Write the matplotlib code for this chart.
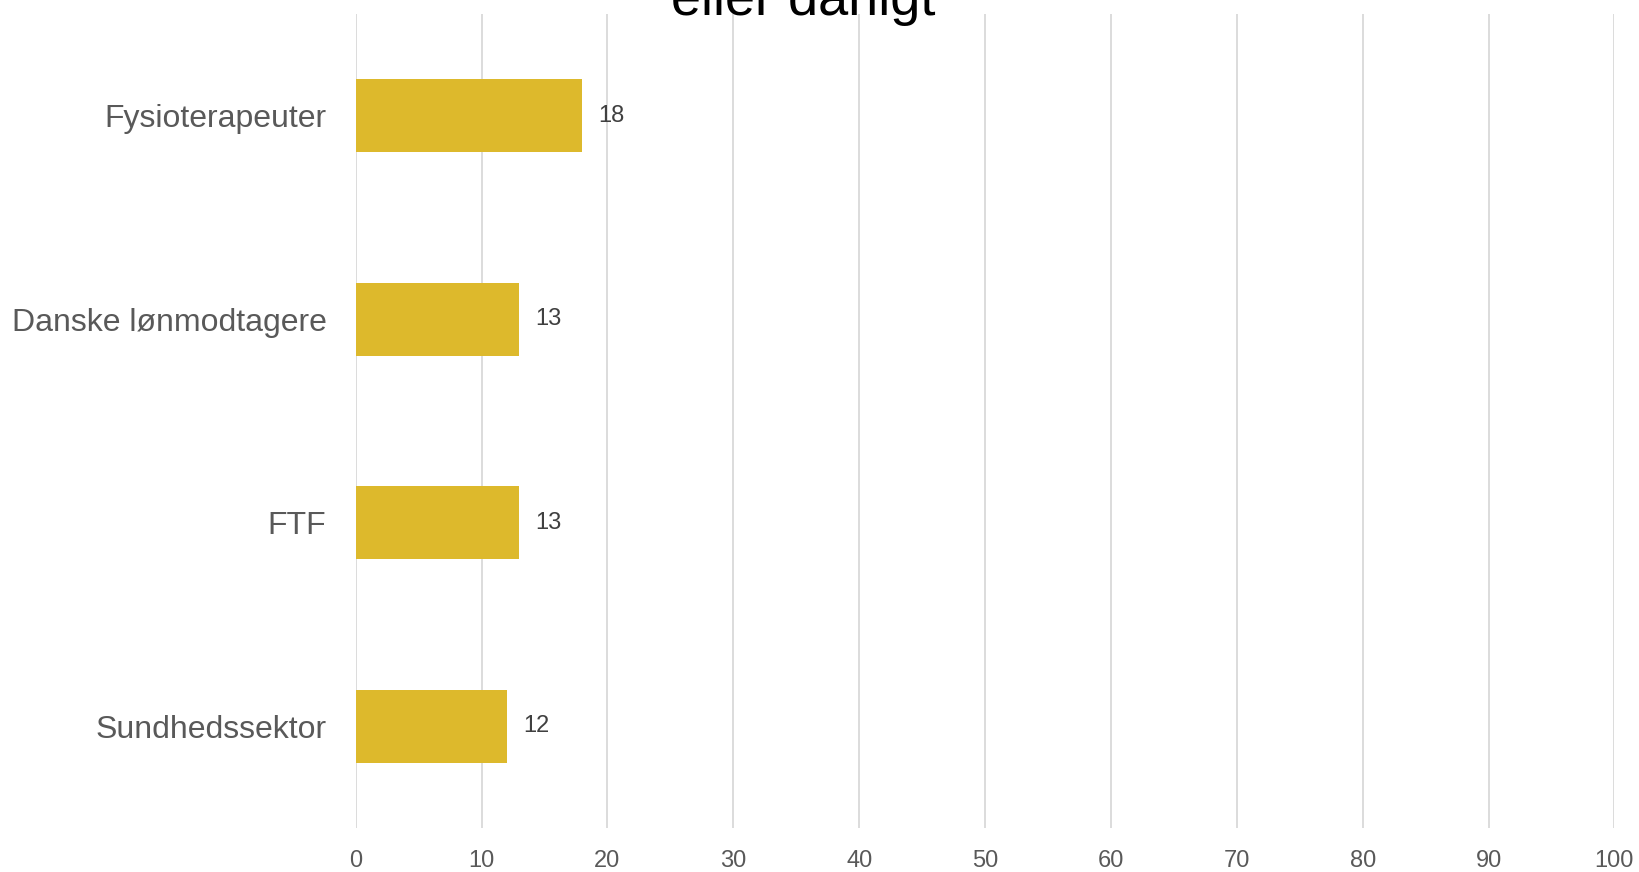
import matplotlib

matplotlib.use("Agg")
import matplotlib.pyplot as plt

# data
categories = ["Fysioterapeuter", "Danske lønmodtagere", "FTF", "Sundhedssektor"]
values = [18, 13, 13, 12]
xticks = list(range(0, 101, 10))

BAR_COLOR = "#DDB92C"
TEXT_GRAY = "#595959"
GRID_GRAY = "#D9D9D9"

plt.rcParams["font.family"] = ["Liberation Sans", "DejaVu Sans"]

fig = plt.figure(figsize=(16.39, 8.72), dpi=100)
ax = fig.add_axes([0.217, 0.0505, 0.768, 0.9335])

ypos = list(range(len(categories)))
ax.barh(ypos, values, height=0.36, color=BAR_COLOR, zorder=2)
for y, v in zip(ypos, values):
    ax.text(v + 1.3, y, f"{v}", va="center", ha="left", fontsize=17, color="#404040")

ax.set_xlim(0, 100)
ax.set_ylim(len(categories) - 0.5, -0.5)
ax.set_yticks(ypos)
ax.set_yticklabels(categories, fontsize=23, color=TEXT_GRAY)
ax.set_xticks(xticks)
ax.set_xticklabels([str(t) for t in xticks], fontsize=17, color=TEXT_GRAY)
ax.tick_params(axis="both", length=0)
ax.tick_params(axis="y", pad=21)
ax.tick_params(axis="x", pad=16)

ax.grid(axis="x", color=GRID_GRAY, linewidth=1.3, zorder=0)
for side in ax.spines.values():
    side.set_visible(False)

# title is cut off by the top edge in the reference; only its last line shows
fig.text(0.49, 0.983, "eller dårligt", ha="center", va="baseline", fontsize=39, color="black")

fig.savefig("out.png", dpi=100)
plt.close(fig)
